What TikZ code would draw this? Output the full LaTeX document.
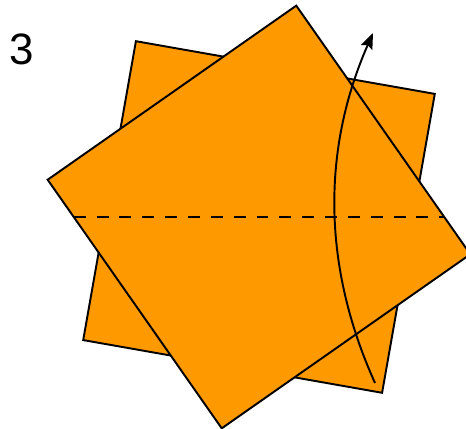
\documentclass[tikz,border=0pt]{standalone}
\usepackage{fontspec}
\setmainfont{Liberation Sans}
\usetikzlibrary{arrows.meta}
\definecolor{paperorange}{HTML}{FF9900}
\definecolor{linecolor}{HTML}{000000}

\begin{document}
\begin{tikzpicture}[
    outline/.style={draw=linecolor, line width=1.1pt, line join=miter},
    crease/.style={draw=linecolor, line width=1.1pt, dash pattern=on 6.8pt off 6.2pt},
    foldarrow/.style={draw=linecolor, line width=1.1pt, -{Stealth[length=9pt, width=7pt, inset=1.5pt]}}
]
  \clip (0,0) rectangle (9.32,8.58);

  % 1. Back sheet (turned a little)
  \begin{scope}[shift={(5.18,4.24)}, rotate=-10]
    \path[fill=paperorange, outline] (-3.035,-3.035) rectangle (3.035,3.035);
  \end{scope}

  % 2. Front sheet
  \begin{scope}[shift={(5.18,4.24)}, rotate=-55]
    \path[fill=paperorange, outline] (-3.035,-3.035) rectangle (3.035,3.035);
  \end{scope}

  % Fold line across the front sheet
  \path[crease] (1.475,4.24) -- (8.885,4.24);

  % Fold arrow
  \coordinate (foldstart) at (7.5,0.92);
  \coordinate (foldend) at (7.46,7.92);
  \path[foldarrow] (foldstart) .. controls (6.447,3.253) and (6.433,5.587) .. (foldend);

  % Step number
  \node (stepnum) at (0.43,7.6) {\fontsize{25}{30}\selectfont 3};
\end{tikzpicture}
\end{document}
